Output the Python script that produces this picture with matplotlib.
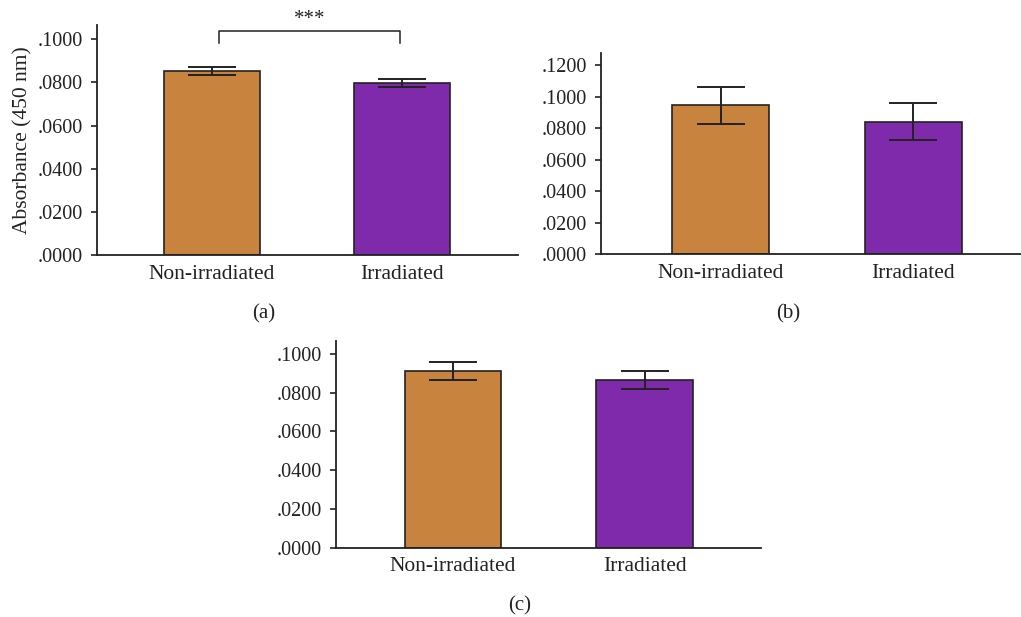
import matplotlib
matplotlib.use("Agg")
import matplotlib.pyplot as plt

plt.rcParams['font.family'] = ['Liberation Serif', 'DejaVu Serif']

categories = ["Non-irradiated", "Irradiated"]
colors = ["#C8843F", "#7F2AAA"]

means_a = [0.0852, 0.0798]
errs_a = [0.0018, 0.0020]
means_b = [0.0945, 0.0841]
errs_b = [0.0118, 0.0117]
means_c = [0.0914, 0.0866]
errs_c = [0.0047, 0.0046]

yticks_a = [0.0, 0.02, 0.04, 0.06, 0.08, 0.10]
yticks_b = [0.0, 0.02, 0.04, 0.06, 0.08, 0.10, 0.12]
yticks_c = [0.0, 0.02, 0.04, 0.06, 0.08, 0.10]

fig = plt.figure(figsize=(10.21, 6.17), dpi=100)

panels = [
    # rect, means, errs, ticks, ymax, xlim, label, label position
    ([0.0947, 0.5862, 0.4123, 0.3733], means_a, errs_a, yticks_a, 0.1066, (-0.608, 1.61), "(a)", (0.258, 0.492)),
    ([0.5883, 0.5878, 0.4117, 0.3268], means_b, errs_b, yticks_b, 0.1278, (-0.623, 1.56), "(b)", (0.772, 0.492)),
    ([0.3291, 0.1123, 0.4163, 0.3350], means_c, errs_c, yticks_c, 0.1067, (-0.61, 1.606), "(c)", (0.509, 0.018)),
]

axes = []
for rect, m, e, ticks, ymax, xl, lab, lpos in panels:
    ax = fig.add_axes(rect)
    x = range(len(categories))
    ax.bar(x, m, width=0.505, color=colors, edgecolor="#222222", linewidth=1.2, zorder=2)
    ax.errorbar(x, m, yerr=e, fmt="none", ecolor="#222222", elinewidth=1.4,
                capsize=17, capthick=1.4, zorder=3)
    ax.set_xlim(*xl)
    ax.set_ylim(0, ymax)
    ax.set_yticks(ticks)
    ax.set_yticklabels(["." + f"{t:.4f}".split(".")[1] for t in ticks])
    ax.set_xticks(list(x))
    ax.set_xticklabels(categories)
    for s in ("top", "right"):
        ax.spines[s].set_visible(False)
    for s in ("left", "bottom"):
        ax.spines[s].set_linewidth(1.3)
        ax.spines[s].set_color("#222222")
    ax.tick_params(axis="y", direction="out", length=4, width=1.2, labelsize=14.5,
                   colors="#222222", pad=6)
    ax.tick_params(axis="x", length=0, labelsize=15.5, colors="#222222", pad=7)
    fig.text(lpos[0], lpos[1], lab, ha="center", va="center", fontsize=15, color="#222222")
    axes.append(ax)

ax_a = axes[0]
ax_a.set_ylabel("Absorbance (450 nm)", fontsize=15.5, color="#222222", labelpad=4)

# significance bracket between the two groups in panel (a)
x0, x1 = 0.034, 0.99
y_leg, y_top = 0.0981, 0.1040
ax_a.plot([x0, x0, x1, x1], [y_leg, y_top, y_top, y_leg], color="#222222",
          linewidth=1.1, clip_on=False, zorder=4)
ax_a.text((x0 + x1) / 2, 0.1092, "***", ha="center", va="center", fontsize=15,
          color="#222222", clip_on=False)

fig.savefig("out.png", dpi=100)
